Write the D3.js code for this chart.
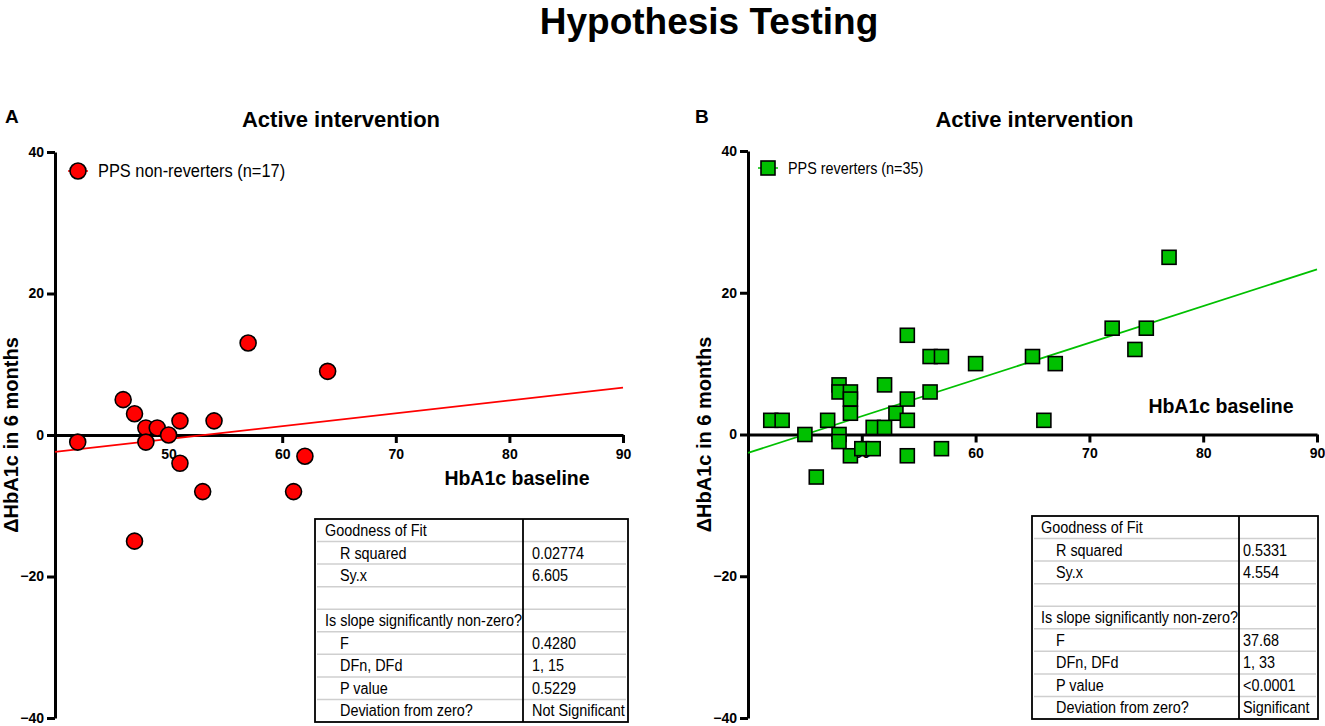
<!DOCTYPE html>
<html>
<head>
<meta charset="utf-8">
<script src="https://cdn.jsdelivr.net/npm/d3@7"></script>
<style>
  body { margin: 0; background: #fff; }
  svg { display: block; font-family: "Liberation Sans", Arial, sans-serif; }
</style>
</head>
<body>
<div id="chart"></div>
<script>
// ---- data ----
var titleText = "Hypothesis Testing"
var panelTitle = "Active intervention"
var xLabel = "HbA1c baseline"
var yLabel = "\u0394HbA1c in 6 months"
var yTicks = [-40, -20, 0, 20, 40]
var xTicks = [50, 60, 70, 80, 90]

// panel A : PPS non-reverters
var nonRevX = [42, 46, 47, 48, 48, 49, 50, 51, 51, 47, 53, 54, 57, 61, 62, 64]
var nonRevY = [-1, 5, 3, 1, -1, 1, 0, 2, -4, -15, -8, 2, 13, -8, -3, 9]
var fitAX = [40, 90]
var fitAY = [-2.4, 6.7]

// panel B : PPS reverters
var revX = [42, 43, 45, 46, 47, 48, 48, 48, 48, 49, 49, 49, 49, 50, 51, 51, 52, 52,
            53, 54, 54, 54, 54, 56, 57, 56, 57, 60, 65, 67, 66, 72, 74, 75, 77]
var revY = [2, 2, 0, -6, 2, 7, 6, 0, -1, 6, 5, 3, -3, -2, -2, 1, 1, 7,
            3, 2, 5, 14, -3, 11, 11, 6, -2, 10, 11, 10, 2, 15, 12, 15, 25]
var fitBX = [40, 90]
var fitBY = [-2.6, 23.3]

// fit tables
var statLabels = ["Goodness of Fit", "R squared", "Sy.x", "", "Is slope significantly non-zero?",
                  "F", "DFn, DFd", "P value", "Deviation from zero?"]
var statIndent = [0, 1, 1, 0, 0, 1, 1, 1, 1]
var statsA = ["", "0.02774", "6.605", "", "", "0.4280", "1, 15", "0.5229", "Not Significant"]
var statsB = ["", "0.5331", "4.554", "", "", "37.68", "1, 33", "<0.0001", "Significant"]

// ---- layout ----
var W = 1325, H = 726

var svg = d3.select("#chart").append("svg")
    .attr("width", W)
    .attr("height", H)

function squeeze(sel, k) {
  sel.each(function() {
    var L = this.getComputedTextLength()
    if (L > 0) d3.select(this).attr("textLength", L * k).attr("lengthAdjust", "spacingAndGlyphs")
  })
}

svg.append("text")
    .attr("x", 709)
    .attr("y", 34)
    .attr("text-anchor", "middle")
    .style("font-size", "37px")
    .style("font-weight", "bold")
    .text(titleText)

var panels = [
  { letter: "A", lx: 5, xr: [55, 623], yr: [718, 152], px: nonRevX, py: nonRevY,
    fx: fitAX, fy: fitAY, color: "#ff0000", shape: "circle",
    legend: "PPS non-reverters (n=17)", legX: 78, legY: 171, legFont: 18, legK: 0.91,
    xlabX: 517, xlabY: 485, stats: statsA,
    tab: { left: 315, right: 628, top: 519, bottom: 722, div: 523, tx: 325, ix: 340, vx: 532 } },
  { letter: "B", lx: 695, xr: [748, 1317], yr: [718, 151], px: revX, py: revY,
    fx: fitBX, fy: fitBY, color: "#00c000", shape: "square",
    legend: "PPS reverters (n=35)", legX: 768, legY: 168, legFont: 16.5, legK: 0.87,
    xlabX: 1221, xlabY: 413, stats: statsB,
    tab: { left: 1032, right: 1318, top: 516, bottom: 719, div: 1239, tx: 1041, ix: 1056, vx: 1243 } }
]

panels.forEach(function(p) {
  var x = d3.scaleLinear().domain([40, 90]).range(p.xr)
  var y = d3.scaleLinear().domain([-40, 40]).range(p.yr)
  var g = svg.append("g")

  // panel letter + title
  g.append("text")
      .attr("x", p.lx).attr("y", 123)
      .style("font-size", "19px").style("font-weight", "bold")
      .text(p.letter)

  g.append("text")
      .attr("x", (p.xr[0] + p.xr[1]) / 2 + 2).attr("y", 127)
      .attr("text-anchor", "middle")
      .style("font-size", "22px").style("font-weight", "bold")
      .text(panelTitle)

  // y axis
  var yAx = g.append("g")
      .attr("transform", "translate(" + p.xr[0] + ",0)")
      .call(d3.axisLeft(y).tickValues(yTicks).tickSize(8).tickPadding(3).tickSizeOuter(0))
  // x axis on the zero line
  var xAx = g.append("g")
      .attr("transform", "translate(0," + y(0) + ")")
      .call(d3.axisBottom(x).tickValues(xTicks).tickSize(8).tickPadding(6).tickSizeOuter(0))

  ;[yAx, xAx].forEach(function(a) {
    a.attr("font-size", 14).attr("font-weight", "bold")
     .attr("font-family", "'Liberation Sans', Arial, sans-serif")
    a.select(".domain").attr("stroke", "#000").attr("stroke-width", 3)
    a.selectAll(".tick line").attr("stroke", "#000").attr("stroke-width", 3)
    a.selectAll(".tick text")
        .attr("fill", "#000")
        .style("font-size", "14px")
        .style("font-weight", "bold")
  })

  // axis titles
  g.append("text")
      .attr("transform", "translate(" + (p.xr[0] - 37) + "," + y(0) + ") rotate(-90)")
      .attr("text-anchor", "middle")
      .style("font-size", "20px").style("font-weight", "bold")
      .text(yLabel)

  g.append("text")
      .attr("x", p.xlabX).attr("y", p.xlabY)
      .attr("text-anchor", "middle")
      .style("font-size", "19.5px").style("font-weight", "bold")
      .text(xLabel)

  // regression line
  g.append("line")
      .attr("x1", x(p.fx[0])).attr("y1", y(p.fy[0]))
      .attr("x2", x(p.fx[1])).attr("y2", y(p.fy[1]))
      .attr("stroke", p.color)
      .attr("stroke-width", 1.8)

  // points
  var pts = d3.range(p.px.length).map(function(i) { return { x: p.px[i], y: p.py[i] } })
  if (p.shape === "circle") {
    g.selectAll("circle.pt").data(pts).enter().append("circle")
        .attr("class", "pt")
        .attr("cx", function(d) { return x(d.x) })
        .attr("cy", function(d) { return y(d.y) })
        .attr("r", 8)
        .attr("fill", p.color)
        .attr("stroke", "#000")
        .attr("stroke-width", 1.6)
  } else {
    g.selectAll("rect.pt").data(pts).enter().append("rect")
        .attr("class", "pt")
        .attr("x", function(d) { return x(d.x) - 7 })
        .attr("y", function(d) { return y(d.y) - 7 })
        .attr("width", 14).attr("height", 14)
        .attr("fill", p.color)
        .attr("stroke", "#000")
        .attr("stroke-width", 1.6)
  }

  // legend
  g.append("line")
      .attr("x1", p.legX - 10).attr("x2", p.legX + 10)
      .attr("y1", p.legY).attr("y2", p.legY)
      .attr("stroke", p.color).attr("stroke-width", 1.5)
  if (p.shape === "circle") {
    g.append("circle").attr("cx", p.legX).attr("cy", p.legY).attr("r", 8)
        .attr("fill", p.color).attr("stroke", "#000").attr("stroke-width", 1.6)
  } else {
    g.append("rect").attr("x", p.legX - 7).attr("y", p.legY - 7).attr("width", 14).attr("height", 14)
        .attr("fill", p.color).attr("stroke", "#000").attr("stroke-width", 1.6)
  }
  g.append("text")
      .attr("x", p.legX + 20).attr("y", p.legY + 6)
      .style("font-size", p.legFont + "px")
      .text(p.legend)
      .call(squeeze, p.legK)

  // stats table
  var t = p.tab
  var rh = (t.bottom - t.top) / statLabels.length
  var tg = g.append("g")
  for (var i = 1; i < statLabels.length; i++) {
    tg.append("line")
        .attr("x1", t.left + 2).attr("x2", t.right - 2)
        .attr("y1", t.top + i * rh).attr("y2", t.top + i * rh)
        .attr("stroke", "#cfcfcf").attr("stroke-width", 1.5)
  }
  tg.append("rect")
      .attr("x", t.left).attr("y", t.top)
      .attr("width", t.right - t.left).attr("height", t.bottom - t.top)
      .attr("fill", "none").attr("stroke", "#000").attr("stroke-width", 1.8)
  tg.append("line")
      .attr("x1", t.div).attr("x2", t.div)
      .attr("y1", t.top).attr("y2", t.bottom)
      .attr("stroke", "#000").attr("stroke-width", 1.8)

  tg.selectAll("text.lab").data(statLabels).enter().append("text")
      .attr("class", "lab")
      .attr("x", function(d, i) { return statIndent[i] ? t.ix : t.tx })
      .attr("y", function(d, i) { return t.top + i * rh + 17 })
      .style("font-size", "16px")
      .text(function(d) { return d })
      .call(squeeze, 0.9)

  tg.selectAll("text.val").data(p.stats).enter().append("text")
      .attr("class", "val")
      .attr("x", t.vx)
      .attr("y", function(d, i) { return t.top + i * rh + 17 })
      .style("font-size", "16px")
      .text(function(d) { return d })
      .call(squeeze, 0.9)
})
</script>
</body>
</html>
